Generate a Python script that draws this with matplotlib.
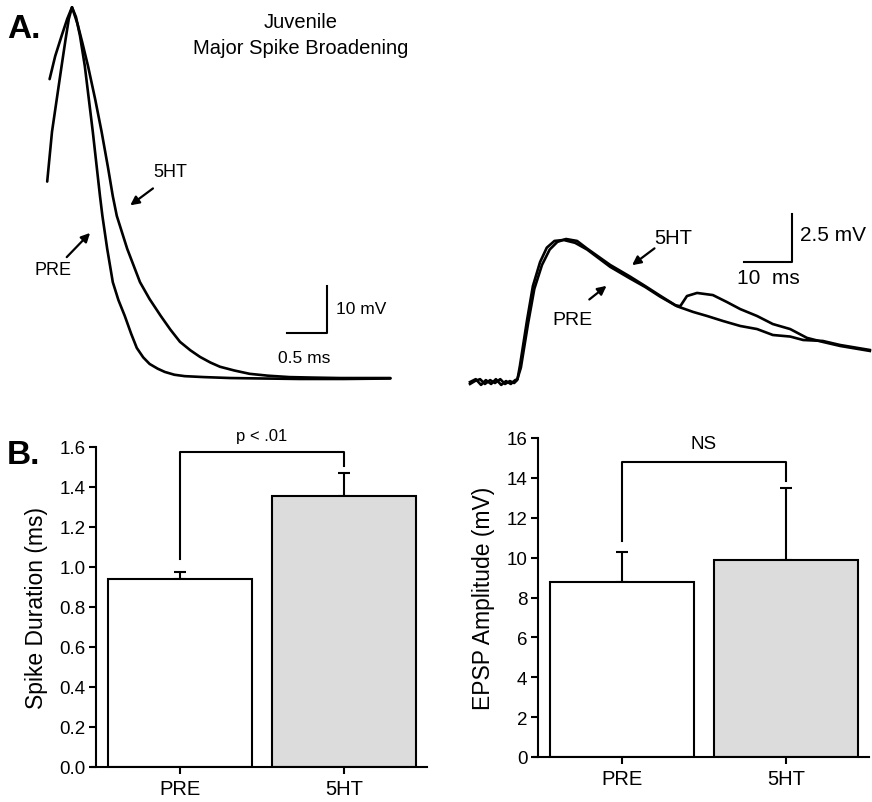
import matplotlib
matplotlib.use("Agg")
import matplotlib.pyplot as plt

plt.rcParams['font.family'] = ['Liberation Sans', 'DejaVu Sans']

W, H = 872, 803

# ---------------- Data: spike traces (ms, mV relative to baseline) ----------------
spike_pre_t = [-0.01, 0.05, 0.11, 0.17, 0.22, 0.26, 0.30, 0.35, 0.40, 0.46, 0.56, 0.65,
               0.68, 0.74, 0.81, 0.88, 0.96, 1.04, 1.11, 1.19, 1.27, 1.37, 1.46, 1.58,
               1.71, 1.95, 2.28, 2.7, 3.15, 3.7, 4.28]
spike_pre_v = [42.0, 52.6, 59.6, 66.6, 72.3, 76.6, 79.1, 77.0, 73.0, 66.6, 52.6, 38.9,
               34.7, 27.7, 20.6, 16.8, 13.4, 9.6, 6.6, 4.6, 3.2, 2.2, 1.5, 0.9,
               0.6, 0.4, 0.2, 0.1, 0.0, 0.0, 0.1]
spike_5ht_t = [0.02, 0.09, 0.17, 0.24, 0.30, 0.37, 0.43, 0.50, 0.59, 0.67, 0.75, 0.81,
               0.86, 0.99, 1.15, 1.27, 1.41, 1.53, 1.65, 1.78, 1.90, 2.03, 2.15, 2.33,
               2.52, 2.75, 3.02, 3.3, 3.65, 4.0, 4.28]
spike_5ht_v = [63.8, 68.7, 73.0, 76.6, 79.1, 75.5, 71.5, 66.6, 59.5, 52.6, 45.0, 38.9,
               34.7, 27.7, 20.6, 17.0, 13.4, 10.5, 7.9, 6.1, 4.7, 3.5, 2.6, 1.8,
               1.1, 0.7, 0.4, 0.3, 0.2, 0.2, 0.2]

# ---------------- Data: EPSP traces (ms, mV relative to baseline) ----------------
epsp_pre_t = [0.0, 1.2, 2.3, 3.3, 4.4, 5.4, 6.5, 7.5, 8.5, 9.4, 9.9, 10.4, 11.9, 13.1,
              14.6, 16.0, 17.6, 19.5, 21.9, 24.4, 29.2, 33.3, 36.5, 39.6, 43.1, 46.5,
              49.4, 52.7, 56.3, 59.8, 63.1, 66.7, 69.4, 73.5, 77.1, 80.2, 83.3]
epsp_pre_v = [0.05, 0.2, -0.1, 0.15, -0.05, 0.2, -0.1, 0.1, -0.05, 0.15, 0.2, 0.9, 3.3, 5.05,
              6.3, 7.05, 7.4, 7.45, 7.3, 6.95, 6.05, 5.45, 5.0, 4.5, 4.0, 3.7,
              3.49, 3.23, 2.97, 2.81, 2.5, 2.42, 2.24, 2.19, 1.98, 1.85, 1.72]
epsp_5ht_t = [0.0, 1.0, 2.1, 3.1, 4.2, 5.2, 6.3, 7.3, 8.3, 9.2, 9.8, 10.6, 12.1, 13.4,
              15.0, 16.6, 18.2, 20.0, 22.3, 24.4, 29.2, 33.3, 36.5, 39.6, 42.8, 43.8,
              45.2, 47.3, 50.6, 53.5, 56.3, 59.8, 63.1, 66.7, 70.2, 73.5, 77.1, 80.2, 83.3]
epsp_5ht_v = [-0.05, 0.1, 0.2, -0.05, 0.15, 0.0, 0.2, -0.05, 0.1, 0.0, 0.15, 0.8, 3.1, 4.9,
              6.15, 6.95, 7.35, 7.5, 7.4, 7.0, 6.15, 5.55, 5.05, 4.55, 4.05, 4.0,
              4.53, 4.69, 4.58, 4.22, 3.85, 3.49, 3.07, 2.81, 2.35, 2.14, 1.93, 1.8, 1.67]

# ---------------- Data: bar charts ----------------
groups = ["PRE", "5HT"]
spike_duration = [0.94, 1.355]
spike_duration_err = [0.035, 0.115]
epsp_amplitude = [8.8, 9.9]
epsp_amplitude_err = [1.5, 3.6]
bar_colors = ["white", "#dcdcdc"]

fig = plt.figure(figsize=(W / 100, H / 100), dpi=100)


def rect(x0, y0, x1, y1):
    return [x0 / W, 1 - y1 / H, (x1 - x0) / W, (y1 - y0) / H]


def fpx(x, y):
    return x / W, 1 - y / H


arrow_kw = dict(arrowstyle='-|>', color='black', lw=1.6, mutation_scale=13)

# ---------------- Panel A left: spike ----------------
axA1 = fig.add_axes(rect(0, 0, 440, 400))
axA1.set_xlim(-0.6, 4.9)
axA1.set_ylim(-4.26, 80.85)
axA1.axis('off')
axA1.plot(spike_pre_t, spike_pre_v, color='black', lw=1.9, solid_capstyle='round', solid_joinstyle='round')
axA1.plot(spike_5ht_t, spike_5ht_v, color='black', lw=1.9, solid_capstyle='round', solid_joinstyle='round')
# scale bar: 0.5 ms, 10 mV
axA1.plot([2.99, 3.49, 3.49], [9.8, 9.8, 19.8], color='black', lw=1.5)
axA1.text(3.6, 15.0, "10 mV", fontsize=12.5, va='center', ha='left')
axA1.text(3.20, 4.6, "0.5 ms", fontsize=12.5, va='center', ha='center')
axA1.text(1.53, 44.2, "5HT", fontsize=13, va='center', ha='center')
axA1.annotate("", xy=(1.0, 36.6), xytext=(1.34, 40.9), arrowprops=arrow_kw)
axA1.text(0.06, 23.4, "PRE", fontsize=13, va='center', ha='center')
axA1.annotate("", xy=(0.55, 31.5), xytext=(0.21, 25.5), arrowprops=arrow_kw)

# ---------------- Panel A right: EPSP ----------------
axA2 = fig.add_axes(rect(440, 0, 872, 400))
axA2.set_xlim(-6.25, 83.75)
axA2.set_ylim(-0.833, 20.0)
axA2.axis('off')
axA2.plot(epsp_pre_t, epsp_pre_v, color='black', lw=1.9, solid_joinstyle='round')
axA2.plot(epsp_5ht_t, epsp_5ht_v, color='black', lw=1.9, solid_joinstyle='round')
axA2.plot([57.1, 67.1, 67.1], [6.3, 6.3, 8.8], color='black', lw=1.5)
axA2.text(68.75, 7.75, "2.5 mV", fontsize=15, va='center', ha='left')
axA2.text(62.1, 5.5, "10  ms", fontsize=15, va='center', ha='center')
axA2.text(42.3, 7.6, "5HT", fontsize=14.5, va='center', ha='center')
axA2.annotate("", xy=(33.3, 6.05), xytext=(38.9, 7.1), arrowprops=arrow_kw)
axA2.text(21.3, 3.33, "PRE", fontsize=14, va='center', ha='center')
axA2.annotate("", xy=(28.9, 5.15), xytext=(24.4, 4.26), arrowprops=arrow_kw)

fig.text(*fpx(7, 30), "A.", fontsize=24, fontweight='bold', va='center', ha='left')
fig.text(*fpx(301, 22), "Juvenile", fontsize=14.5, va='center', ha='center')
fig.text(*fpx(301, 48), "Major Spike Broadening", fontsize=14.5, va='center', ha='center')
fig.text(*fpx(7, 456), "B.", fontsize=24, fontweight='bold', va='center', ha='left')


def style_bar_axes(ax):
    ax.spines['top'].set_visible(False)
    ax.spines['right'].set_visible(False)
    ax.spines['left'].set_linewidth(1.5)
    ax.spines['bottom'].set_linewidth(1.5)
    ax.tick_params(axis='y', direction='out', width=1.5, length=5, labelsize=13.5, pad=3)
    ax.tick_params(axis='x', direction='out', width=1.5, length=5, labelsize=14.5, pad=4)
    ax.set_xlim(-0.537, 1.506)
    ax.spines['left'].set_bounds(0, ax.get_ylim()[1])
    ax.spines['left'].set_position(('data', -0.51))


# ---------------- Panel B left ----------------
axB1 = fig.add_axes(rect(92, 448, 427, 768))
x = [0, 1]
axB1.bar(x, spike_duration, width=0.878, color=bar_colors, edgecolor='black', linewidth=1.5, zorder=2)
axB1.errorbar(x, spike_duration, yerr=[[0, 0], spike_duration_err], fmt='none', ecolor='black',
              elinewidth=1.5, capsize=4, capthick=1.5, zorder=1)
axB1.set_ylim(0, 1.6)
axB1.set_yticks([0.0, 0.2, 0.4, 0.6, 0.8, 1.0, 1.2, 1.4, 1.6])
axB1.set_yticklabels(["0.0", "0.2", "0.4", "0.6", "0.8", "1.0", "1.2", "1.4", "1.6"])
axB1.set_xticks(x)
axB1.set_xticklabels(groups)
style_bar_axes(axB1)
axB1.set_ylabel("Spike Duration (ms)", fontsize=16.5)
axB1.yaxis.set_label_coords(-0.13, 0.5)
axB1.plot([0, 0, 1, 1], [1.04, 1.575, 1.575, 1.505], color='black', lw=1.5, clip_on=False)
axB1.text(0.5, 1.655, "p < .01", fontsize=12, ha='center', va='center')

# ---------------- Panel B right ----------------
axB2 = fig.add_axes(rect(534, 439, 869, 758))
axB2.bar(x, epsp_amplitude, width=0.878, color=bar_colors, edgecolor='black', linewidth=1.5, zorder=2)
axB2.errorbar(x, epsp_amplitude, yerr=[[0, 0], epsp_amplitude_err], fmt='none', ecolor='black',
              elinewidth=1.5, capsize=4, capthick=1.5, zorder=1)
axB2.set_ylim(0, 16)
axB2.set_yticks(list(range(0, 17, 2)))
axB2.set_xticks(x)
axB2.set_xticklabels(groups)
style_bar_axes(axB2)
axB2.set_ylabel("EPSP Amplitude (mV)", fontsize=16.5)
axB2.yaxis.set_label_coords(-0.115, 0.5)
axB2.plot([0, 0, 1, 1], [10.85, 14.8, 14.8, 13.85], color='black', lw=1.5, clip_on=False)
axB2.text(0.5, 15.7, "NS", fontsize=13.5, ha='center', va='center')

fig.savefig("out.png", dpi=100)
